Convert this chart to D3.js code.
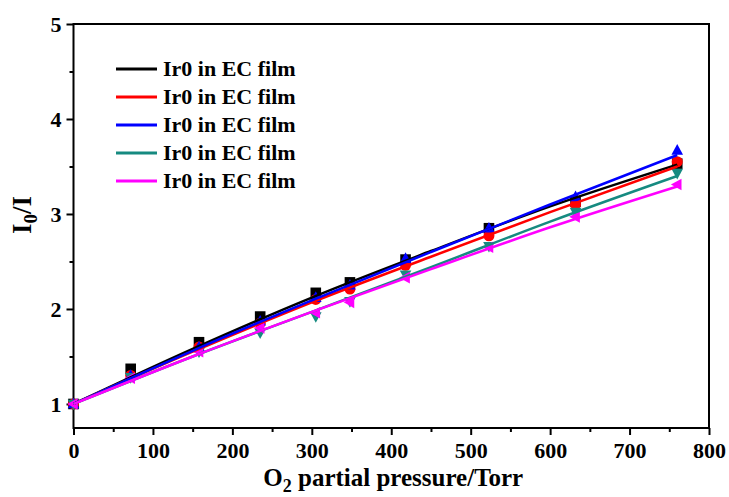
<!DOCTYPE html>
<html>
<head>
<meta charset="utf-8">
<script src="https://cdn.jsdelivr.net/npm/d3@7"></script>
<style>
body { margin: 0; background: #fff; }
text { font-family: "Liberation Serif", "Times New Roman", serif; font-weight: bold; }
</style>
</head>
<body>
<div id="container"></div>
<script>
// O2 partial pressure (Torr)
const pressure = [0, 72, 158, 235, 305, 348, 418, 523, 632, 760];

const seriesNames = ["Ir0 in EC film", "Ir0 in EC film", "Ir0 in EC film", "Ir0 in EC film", "Ir0 in EC film"];
const colors = ["#000000", "#ff0000", "#0000ff", "#168a80", "#ff00ff"];
const markers = ["square", "circle", "up", "down", "left"];

// I0/I values
const blackVals   = [1.0, 1.37, 1.65, 1.92, 2.17, 2.28, 2.52, 2.85, 3.13, 3.53];
const redVals     = [1.0, 1.30, 1.60, 1.85, 2.10, 2.21, 2.46, 2.77, 3.10, 3.55];
const blueVals    = [1.0, 1.30, 1.60, 1.87, 2.12, 2.25, 2.53, 2.85, 3.18, 3.67];
const tealVals    = [1.0, 1.28, 1.55, 1.75, 1.92, 2.08, 2.36, 2.66, 3.02, 3.43];
const magentaVals = [1.0, 1.27, 1.55, 1.80, 1.96, 2.07, 2.33, 2.65, 2.97, 3.31];
const allVals = [blackVals, redVals, blueVals, tealVals, magentaVals];

// fitted curves, read at a few pressures
const fitX = [0, 150, 300, 450, 600, 760];
const blackFit   = [1.0, 1.58, 2.12, 2.61, 3.08, 3.52];
const redFit     = [1.0, 1.55, 2.07, 2.55, 3.02, 3.50];
const blueFit    = [1.0, 1.56, 2.09, 2.60, 3.10, 3.62];
const tealFit    = [1.0, 1.50, 1.97, 2.44, 2.92, 3.40];
const magentaFit = [1.0, 1.50, 1.97, 2.42, 2.86, 3.29];
const allFits = [blackFit, redFit, blueFit, tealFit, magentaFit];

const xTicks = [0, 100, 200, 300, 400, 500, 600, 700, 800];
const yTicks = [1, 2, 3, 4, 5];

const width = 729, height = 497;
const plotL = 73.5, plotR = 709, plotT = 24, plotB = 428;

const x = d3.scaleLinear().domain([0, 800]).range([plotL, plotR]);
const y = d3.scaleLinear().domain([0.747, 5]).range([plotB, plotT]);

const svg = d3.select("#container").append("svg")
    .attr("width", width).attr("height", height);

// frame
svg.append("rect")
    .attr("x", plotL).attr("y", plotT)
    .attr("width", plotR - plotL).attr("height", plotB - plotT)
    .attr("fill", "none").attr("stroke", "#000").attr("stroke-width", 2);

// x axis
const xMinor = svg.append("g").attr("transform", `translate(0,${plotB})`)
    .call(d3.axisBottom(x).tickValues(d3.range(50, 800, 100)).tickSize(4).tickFormat(""));
const xAxis = svg.append("g").attr("transform", `translate(0,${plotB})`)
    .call(d3.axisBottom(x).tickValues(xTicks).tickSize(7).tickPadding(7).tickFormat(d3.format("d")));

// y axis
const yMinor = svg.append("g").attr("transform", `translate(${plotL},0)`)
    .call(d3.axisLeft(y).tickValues([1.5, 2.5, 3.5, 4.5]).tickSize(4).tickFormat(""));
const yAxis = svg.append("g").attr("transform", `translate(${plotL},0)`)
    .call(d3.axisLeft(y).tickValues(yTicks).tickSize(7).tickPadding(5).tickFormat(d3.format("d")));

[xMinor, xAxis, yMinor, yAxis].forEach(g => {
    g.selectAll(".domain").remove();
    g.selectAll("line").attr("stroke-width", 2);
    g.selectAll("text")
        .attr("font-size", 22)
        .attr("font-family", "Liberation Serif")
        .attr("font-weight", "bold")
        .attr("fill", "#000");
});

// axis titles
const xt = svg.append("text")
    .attr("x", (plotL + plotR) / 2 + 2).attr("y", 486)
    .attr("text-anchor", "middle").attr("font-size", 25);
xt.append("tspan").text("O");
xt.append("tspan").attr("font-size", 18).attr("dy", 6).text("2");
xt.append("tspan").attr("dy", -6).text(" partial pressure/Torr");

const yt = svg.append("text")
    .attr("transform", `translate(31,215) rotate(-90)`)
    .attr("text-anchor", "middle").attr("font-size", 27);
yt.append("tspan").text("I");
yt.append("tspan").attr("font-size", 19).attr("dy", 6).text("0");
yt.append("tspan").attr("dy", -6).text("/I");

// markers
function symbolPath(kind, cx, cy) {
    const r = 5.3;
    if (kind === "square") return `M${cx - r},${cy - r}h${2 * r}v${2 * r}h${-2 * r}Z`;
    if (kind === "up") return `M${cx},${cy - r - 1}L${cx + r + 0.5},${cy + r - 1}L${cx - r - 0.5},${cy + r - 1}Z`;
    if (kind === "down") return `M${cx},${cy + r + 1}L${cx + r + 0.5},${cy - r + 1}L${cx - r - 0.5},${cy - r + 1}Z`;
    if (kind === "left") return `M${cx - r - 1},${cy}L${cx + r - 1},${cy - r - 0.5}L${cx + r - 1},${cy + r + 0.5}Z`;
    return null;
}

const plot = svg.append("g");
allVals.forEach((vals, i) => {
    const pts = plot.append("g");
    const data = pressure.map((p, j) => [p, vals[j]]);
    if (markers[i] === "circle") {
        pts.selectAll("circle").data(data).join("circle")
            .attr("cx", d => x(d[0])).attr("cy", d => y(d[1])).attr("r", 5.5)
            .attr("fill", colors[i]);
    } else {
        pts.selectAll("path").data(data).join("path")
            .attr("d", d => symbolPath(markers[i], x(d[0]), y(d[1])))
            .attr("fill", colors[i]);
    }
});

// fit curves on top
const line = d3.line().x(d => x(d[0])).y(d => y(d[1])).curve(d3.curveMonotoneX);
allFits.forEach((fit, i) => {
    plot.append("path")
        .datum(fitX.map((p, j) => [p, fit[j]]))
        .attr("d", line)
        .attr("fill", "none")
        .attr("stroke", colors[i])
        .attr("stroke-width", 2.5);
});

// legend
const legend = svg.append("g");
seriesNames.forEach((name, i) => {
    const ly = 69 + i * 28;
    legend.append("line")
        .attr("x1", 116).attr("x2", 157).attr("y1", ly).attr("y2", ly)
        .attr("stroke", colors[i]).attr("stroke-width", 3);
    legend.append("text")
        .attr("x", 163).attr("y", ly + 7)
        .attr("font-size", 22)
        .text(name);
});
</script>
</body>
</html>
